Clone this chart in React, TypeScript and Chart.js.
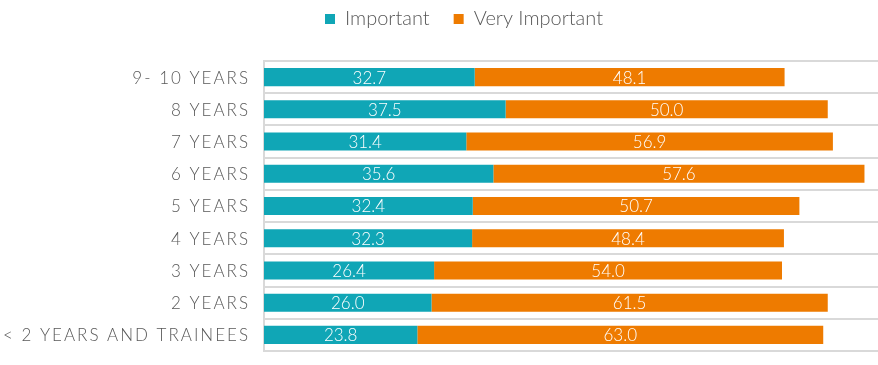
import React, { useEffect, useRef } from 'react';
import { Chart, registerables } from 'chart.js';

Chart.register(...registerables);

const categories = [
  '9- 10 YEARS',
  '8 YEARS',
  '7 YEARS',
  '6 YEARS',
  '5 YEARS',
  '4 YEARS',
  '3 YEARS',
  '2 YEARS',
  '< 2 YEARS AND TRAINEES',
];
const seriesNames = ['Important', 'Very Important'];
const important = [32.7, 37.5, 31.4, 35.6, 32.4, 32.3, 26.4, 26.0, 23.8];
const veryImportant = [48.1, 50.0, 56.9, 57.6, 50.7, 48.4, 54.0, 61.5, 63.0];

const TEAL = '#10a6b6';
const ORANGE = '#ee7b00';
const TEXT = '#595959';
const GRID = '#d9d9d9';
const FONT = 'Lato, "DejaVu Sans", sans-serif';

export default function App() {
  const ref = useRef<HTMLCanvasElement>(null);

  useEffect(() => {
    if (!ref.current) return;

    const legendSpacer = {
      id: 'legendSpacer',
      beforeInit(chart: any) {
        const legend = chart.legend;
        if (!legend) return;
        const orig = legend.fit;
        legend.fit = function () {
          orig.call(this);
          this.height += 22;
        };
      },
    };

    const labelsPlugin = {
      id: 'customLabels',
      afterDatasetsDraw(chart: any) {
        const ctx = chart.ctx;
        ctx.save();
        ctx.fillStyle = '#ffffff';
        ctx.font = `300 17px ${FONT}`;
        ctx.textAlign = 'center';
        ctx.textBaseline = 'middle';
        chart.data.datasets.forEach((ds: any, di: number) => {
          const meta = chart.getDatasetMeta(di);
          meta.data.forEach((bar: any, i: number) => {
            const cx = (bar.x + bar.base) / 2;
            ctx.fillText(Number(ds.data[i]).toFixed(1), cx, bar.y + 1);
          });
        });
        ctx.restore();
      },
      afterDraw(chart: any) {
        const ctx = chart.ctx;
        const yScale = chart.scales.y;
        ctx.save();
        ctx.fillStyle = TEXT;
        ctx.font = `300 17px ${FONT}`;
        ctx.textAlign = 'right';
        ctx.textBaseline = 'middle';
        try {
          (ctx as any).letterSpacing = '2px';
        } catch (e) {}
        categories.forEach((c, i) => {
          const y = yScale.getPixelForTick(i);
          ctx.fillText(c, chart.chartArea.left - 14, y + 1);
        });
        ctx.restore();
      },
    };

    const chart = new Chart(ref.current, {
      type: 'bar',
      data: {
        labels: categories,
        datasets: [
          {
            label: seriesNames[0],
            data: important,
            backgroundColor: TEAL,
            borderWidth: 0,
            barPercentage: 0.56,
            categoryPercentage: 1,
          },
          {
            label: seriesNames[1],
            data: veryImportant,
            backgroundColor: ORANGE,
            borderWidth: 0,
            barPercentage: 0.56,
            categoryPercentage: 1,
          },
        ],
      },
      options: {
        indexAxis: 'y',
        animation: false,
        responsive: true,
        maintainAspectRatio: false,
        layout: { padding: { left: 50, right: 0, top: -15, bottom: 14 } },
        plugins: {
          tooltip: { enabled: false },
          legend: {
            position: 'top',
            align: 'center',
            labels: {
              boxWidth: 10,
              boxHeight: 10,
              padding: 24,
              color: TEXT,
              font: { family: FONT, size: 20, weight: '300' as any },
            },
          },
        },
        scales: {
          x: {
            display: false,
            stacked: true,
            min: 0,
            max: 95.3,
          },
          y: {
            stacked: true,
            grid: { color: GRID, lineWidth: 2, drawTicks: false, offset: true },
            border: { display: true, color: GRID, width: 2 },
            ticks: { display: false },
            afterFit(scale: any) {
              scale.width = 214;
            },
          },
        },
      },
      plugins: [legendSpacer, labelsPlugin],
    });

    return () => chart.destroy();
  }, []);

  return (
    <div style={{ position: 'absolute', left: 0, top: 0, width: 878, height: 365 }}>
      <canvas ref={ref} />
    </div>
  );
}
